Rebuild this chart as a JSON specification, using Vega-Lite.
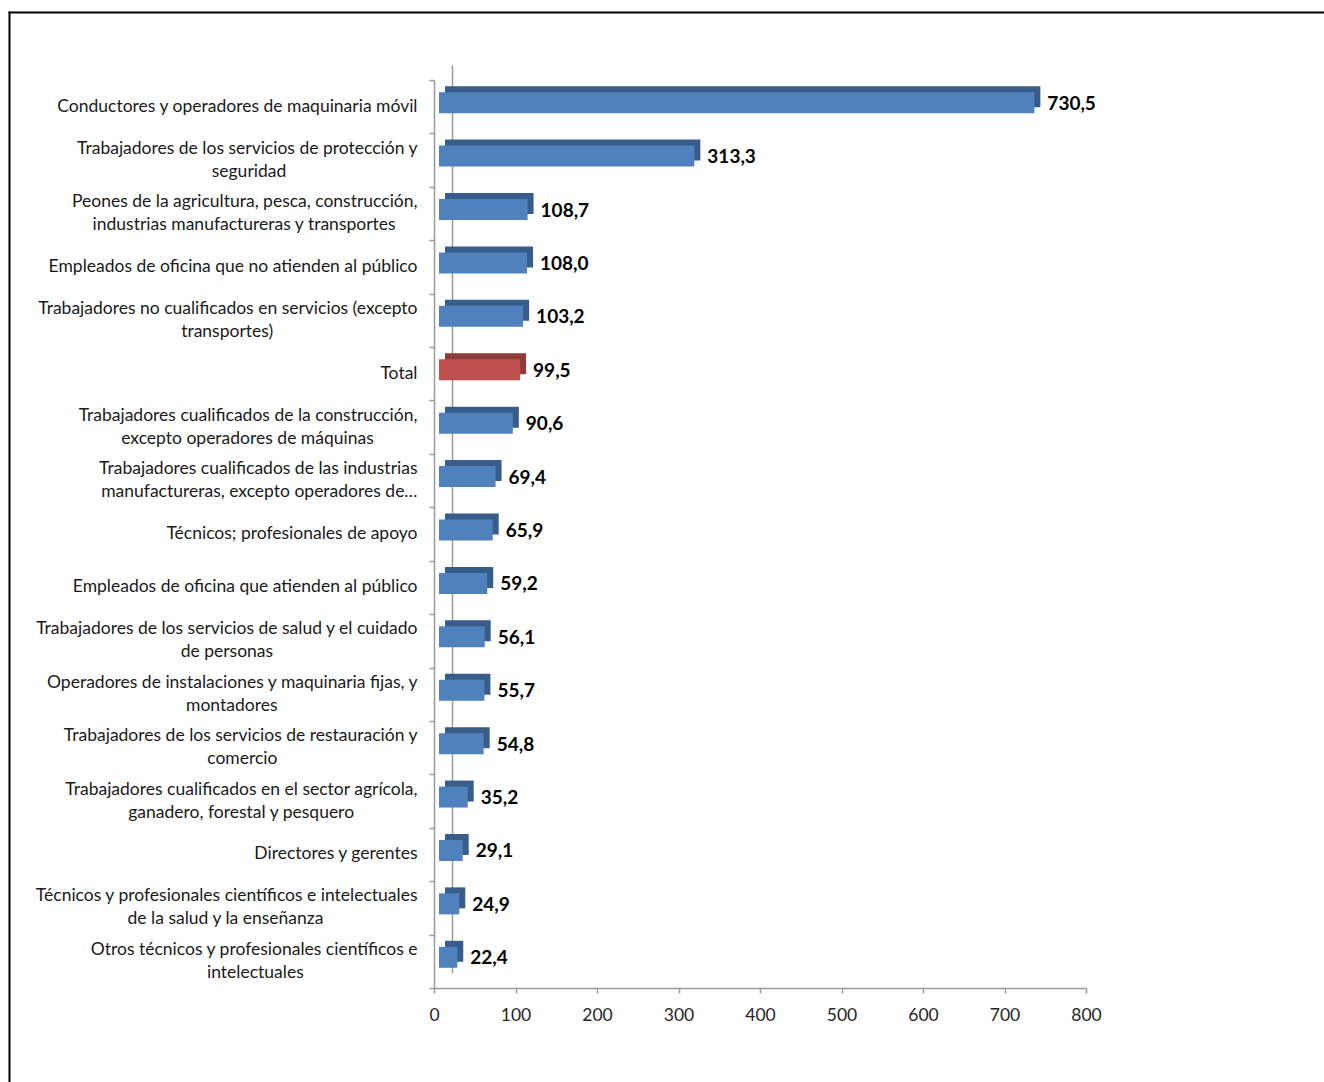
{
  "$schema": "https://vega.github.io/schema/vega-lite/v6.json",
  "width": 1315,
  "height": 1070,
  "autosize": "none",
  "padding": {"left": 9, "top": 12, "right": 0, "bottom": 0},
  "background": "white",
  "config": {
    "view": {"stroke": null},
    "font": "Lato",
    "locale": {"number": {"decimal": ",", "thousands": ".", "grouping": [3], "currency": ["", " €"]}}
  },
  "datasets": {
    "d": [
      {"cat": "Conductores y operadores de maquinaria móvil", "value": 730.5, "tipo": "ocupacion"},
      {"cat": "Trabajadores de los servicios de protección y|seguridad\u2002\u2002\u2002\u2002\u2002\u2002\u2002\u2002\u2002\u2002\u2002\u2002\u2002\u2002\u2002\u2060", "value": 313.3, "tipo": "ocupacion"},
      {"cat": "Peones de la agricultura, pesca, construcción,|industrias manufactureras y transportes\u2002\u2002\u2009\u2009\u2060", "value": 108.7, "tipo": "ocupacion"},
      {"cat": "Empleados de oficina que no atienden al público", "value": 108.0, "tipo": "ocupacion"},
      {"cat": "Trabajadores no cualificados en servicios (excepto|transportes)\u2002\u2002\u2002\u2002\u2002\u2002\u2002\u2002\u2002\u2002\u2002\u2002\u2002\u2002\u2002\u2002\u2009\u2009\u2060", "value": 103.2, "tipo": "ocupacion"},
      {"cat": "Total", "value": 99.5, "tipo": "total"},
      {"cat": "Trabajadores cualificados de la construcción,|excepto operadores de máquinas\u2002\u2002\u2002\u2002\u2002\u2060", "value": 90.6, "tipo": "ocupacion"},
      {"cat": "Trabajadores cualificados de las industrias|manufactureras, excepto operadores de…", "value": 69.4, "tipo": "ocupacion"},
      {"cat": "Técnicos; profesionales de apoyo", "value": 65.9, "tipo": "ocupacion"},
      {"cat": "Empleados de oficina que atienden al público", "value": 59.2, "tipo": "ocupacion"},
      {"cat": "Trabajadores de los servicios de salud y el cuidado|de personas\u2002\u2002\u2002\u2002\u2002\u2002\u2002\u2002\u2002\u2002\u2002\u2002\u2002\u2002\u2002\u2002\u2009\u2009\u2060", "value": 56.1, "tipo": "ocupacion"},
      {"cat": "Operadores de instalaciones y maquinaria fijas, y|montadores\u2002\u2002\u2002\u2002\u2002\u2002\u2002\u2002\u2002\u2002\u2002\u2002\u2002\u2002\u2002\u2002\u2060", "value": 55.7, "tipo": "ocupacion"},
      {"cat": "Trabajadores de los servicios de restauración y|comercio\u2002\u2002\u2002\u2002\u2002\u2002\u2002\u2002\u2002\u2002\u2002\u2002\u2002\u2002\u2002\u2002\u2060", "value": 54.8, "tipo": "ocupacion"},
      {"cat": "Trabajadores cualificados en el sector agrícola,|ganadero, forestal y pesquero\u2002\u2002\u2002\u2002\u2002\u2002\u2002\u2009\u2060", "value": 35.2, "tipo": "ocupacion"},
      {"cat": "Directores y gerentes", "value": 29.1, "tipo": "ocupacion"},
      {"cat": "Técnicos y profesionales científicos e intelectuales|de la salud y la enseñanza\u2002\u2002\u2002\u2002\u2002\u2002\u2002\u2002\u2002\u2002\u2009\u2009\u2009\u2060", "value": 24.9, "tipo": "ocupacion"},
      {"cat": "Otros técnicos y profesionales científicos e|intelectuales\u2002\u2002\u2002\u2002\u2002\u2002\u2002\u2002\u2002\u2002\u2002\u2002\u2002\u2060", "value": 22.4, "tipo": "ocupacion"}
    ]
  },
  "data": {"name": "d"},
  "layer": [
    {
      "mark": {"type": "point", "opacity": 0},
      "encoding": {
        "x": {"field": "value", "type": "quantitative", "scale": {"domain": [0, 1], "range": [-1, 1320], "nice": false, "zero": false},
              "axis": {"orient": "top", "domain": true, "domainColor": "#000000", "domainWidth": 2, "ticks": false, "labels": false, "grid": false, "title": null}},
        "y": {"field": "value", "type": "quantitative", "scale": {"domain": [0, 1], "range": [1080, -1], "nice": false, "zero": false},
              "axis": {"orient": "left", "domain": true, "domainColor": "#000000", "domainWidth": 2, "ticks": false, "labels": false, "grid": false, "title": null}}
      }
    },
    {
      "mark": {"type": "point", "opacity": 0},
      "encoding": {
        "x": {"field": "value", "type": "quantitative", "scale": {"domain": [0, 800], "range": [425, 1077]}, "axis": null},
        "y": {"field": "cat", "type": "nominal", "sort": null, "scale": {"range": [53, 961], "paddingInner": 0, "paddingOuter": 0},
              "axis": {"orient": "left", "offset": -443, "domain": true, "domainColor": "#9a9a9a", "domainWidth": 1.5, "ticks": false, "labels": false, "grid": false, "title": null}}
      }
    },
    {
      "mark": {"type": "point", "opacity": 0},
      "encoding": {
        "x": {"field": "value", "type": "quantitative", "scale": {"domain": [0, 800], "range": [425, 1077]}, "axis": null},
        "y": {"field": "cat", "type": "nominal", "sort": null, "scale": {"range": [68, 976], "paddingInner": 0, "paddingOuter": 0},
              "axis": {"orient": "left", "offset": -425, "domain": true, "domainColor": "#9a9a9a", "domainWidth": 1.5, "ticks": true, "tickBand": "extent", "tickSize": 5, "tickColor": "#9a9a9a", "tickWidth": 1.5, "labels": false, "grid": false, "title": null}}
      }
    },
    {
      "encoding": {
        "x": {"field": "value", "type": "quantitative", "scale": {"domain": [0, 800], "range": [425, 1077], "nice": false},
              "axis": {"orient": "bottom", "offset": -94, "values": [0, 100, 200, 300, 400, 500, 600, 700, 800], "labelFlush": false, "domain": true, "domainColor": "#9a9a9a", "domainWidth": 1.5, "tickSize": 5, "tickColor": "#9a9a9a", "tickWidth": 1.5, "labelFontSize": 17.5, "labelColor": "#262626", "labelPadding": 13, "labelFont": "Lato", "grid": false, "title": null}},
        "y": {"field": "cat", "type": "nominal", "sort": null, "scale": {"range": [68, 976], "paddingInner": 0, "paddingOuter": 0},
              "axis": {"orient": "left", "offset": -425, "domain": false, "ticks": false, "tickSize": 0, "labelPadding": 17, "labelFontSize": 17.5, "labelColor": "#1a1a1a", "labelFont": "Lato", "labelLimit": 700, "labelLineHeight": 23,
                       "labelOffset": {"condition": {"test": "indexof(datum.label, '|') >= 0", "value": -11.5}, "value": 0},
                       "labelExpr": "split(datum.label, '|')", "grid": false, "title": null}}
      },
      "layer": [
        {
          "mark": {"type": "bar", "height": 21, "xOffset": 11, "x2Offset": 11, "yOffset": -10, "y2Offset": -10},
          "encoding": {
            "color": {"condition": {"test": "datum.tipo === 'total'", "value": "#8E3B39"}, "value": "#385D8A"}
          }
        },
        {
          "mark": {"type": "bar", "height": 21, "xOffset": 5, "x2Offset": 5, "yOffset": -4, "y2Offset": -4},
          "encoding": {
            "color": {"condition": {"test": "datum.tipo === 'total'", "value": "#C0504D"}, "value": "#4F81BD"}
          }
        },
        {
          "mark": {"type": "text", "align": "left", "baseline": "middle", "dx": 18, "dy": -3, "fontSize": 19, "fontWeight": "bold", "color": "#000000", "font": "Lato"},
          "encoding": {
            "text": {"field": "value", "type": "quantitative", "format": ".1f"}
          }
        }
      ]
    }
  ],
  "resolve": {"scale": {"x": "independent", "y": "independent"}}
}
